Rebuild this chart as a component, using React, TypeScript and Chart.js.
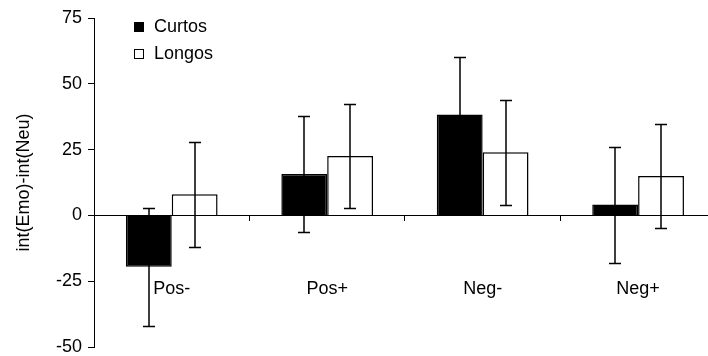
import React, { useEffect, useRef } from 'react';
import { Chart, registerables } from 'chart.js';

Chart.register(...registerables);

const categories = ['Pos-', 'Pos+', 'Neg-', 'Neg+'];
const seriesNames = ['Curtos', 'Longos'];
const curtosValues = [-19.5, 15.7, 38.3, 4.1];
const curtosErrors = [22.4, 21.9, 21.7, 22.0];
const longosValues = [8.0, 22.6, 24.0, 15.0];
const longosErrors = [20.0, 19.8, 19.9, 19.9];
const yTickValues = [-50, -25, 0, 25, 50, 75];
const yTitle = 'int(Emo)-int(Neu)';

const FONT = "'Liberation Sans', Arial, sans-serif";

const errorBarPlugin = {
  id: 'errorBars',
  afterDatasetsDraw(chart: any) {
    const ctx = chart.ctx;
    const yScale = chart.scales.y;
    chart.data.datasets.forEach((ds: any, di: number) => {
      const meta = chart.getDatasetMeta(di);
      meta.data.forEach((bar: any, i: number) => {
        const v = ds.data[i];
        const e = ds.errors[i];
        const x = Math.round(bar.x);
        const yTop = Math.round(yScale.getPixelForValue(v + e)) + 0.5;
        const yBot = Math.round(yScale.getPixelForValue(v - e)) + 0.5;
        ctx.save();
        ctx.strokeStyle = '#000';
        ctx.lineWidth = 1.5;
        ctx.beginPath();
        ctx.moveTo(x, yTop);
        ctx.lineTo(x, yBot);
        ctx.moveTo(x - 6, yTop);
        ctx.lineTo(x + 6, yTop);
        ctx.moveTo(x - 6, yBot);
        ctx.lineTo(x + 6, yBot);
        ctx.stroke();
        ctx.restore();
      });
    });
  },
};

const legendPlugin = {
  id: 'insideLegend',
  afterDraw(chart: any) {
    const { ctx, chartArea } = chart;
    chart.data.datasets.forEach((ds: any, i: number) => {
      const cy = Math.round(chartArea.top + 9 + i * 27.3);
      const bx = Math.round(chartArea.left + 40);
      ctx.save();
      ctx.fillStyle = ds.backgroundColor;
      ctx.fillRect(bx, cy - 5, 10, 10);
      ctx.strokeStyle = '#000';
      ctx.lineWidth = 1;
      ctx.strokeRect(bx + 0.5, cy - 4.5, 9, 9);
      ctx.fillStyle = '#000';
      ctx.font = `18px ${FONT}`;
      ctx.textBaseline = 'middle';
      ctx.textAlign = 'left';
      ctx.fillText(ds.label, bx + 20, cy);
      ctx.restore();
    });
  },
};

export default function App() {
  const canvasRef = useRef<HTMLCanvasElement | null>(null);

  useEffect(() => {
    const canvas = canvasRef.current;
    if (!canvas) return;
    const chart = new Chart(canvas, {
      type: 'bar',
      data: {
        labels: categories,
        datasets: [
          {
            label: seriesNames[0],
            data: curtosValues,
            errors: curtosErrors,
            backgroundColor: '#000000',
            borderColor: '#000000',
            borderWidth: 1.5,
            categoryPercentage: 0.59,
            barPercentage: 1,
          } as any,
          {
            label: seriesNames[1],
            data: longosValues,
            errors: longosErrors,
            backgroundColor: '#ffffff',
            borderColor: '#000000',
            borderWidth: 1.5,
            categoryPercentage: 0.59,
            barPercentage: 1,
          } as any,
        ],
      },
      options: {
        responsive: false,
        animation: false,
        devicePixelRatio: 1,
        layout: { padding: { top: 18, bottom: 9, left: 0, right: 1 } },
        plugins: {
          legend: { display: false },
          tooltip: { enabled: false },
        },
        scales: {
          x: {
            position: { y: 0 } as any,
            offset: true,
            grid: {
              display: true,
              drawOnChartArea: false,
              drawTicks: true,
              tickLength: 5,
              color: '#000',
              offset: true,
            },
            border: { display: true, color: '#000', width: 1 },
            ticks: {
              color: '#000',
              padding: 58,
              font: { family: FONT, size: 18 },
              maxRotation: 0,
            },
          },
          y: {
            min: -50,
            max: 75,
            afterBuildTicks: (scale: any) => {
              scale.ticks = yTickValues.map((v) => ({ value: v }));
            },
            afterFit: (scale: any) => {
              scale.width = 94;
              scale.paddingTop = 0;
              scale.paddingBottom = 0;
            },
            grid: {
              display: true,
              drawOnChartArea: false,
              drawTicks: true,
              tickLength: 6,
              color: '#000',
            },
            border: { display: true, color: '#000', width: 1 },
            ticks: {
              color: '#000',
              padding: 6,
              font: { family: FONT, size: 18 },
            },
            title: {
              display: true,
              text: yTitle,
              color: '#000',
              font: { family: FONT, size: 18 },
              padding: { top: 13, bottom: 0 },
            },
          },
        },
      },
      plugins: [errorBarPlugin, legendPlugin],
    });
    return () => chart.destroy();
  }, []);

  return (
    <div
      style={{
        position: 'fixed',
        left: 0,
        top: 0,
        width: 708,
        height: 356,
        overflow: 'hidden',
        background: '#fff',
      }}
    >
      <canvas
        ref={canvasRef}
        width={718}
        height={356}
        style={{ display: 'block', width: 718, height: 356 }}
      />
    </div>
  );
}
